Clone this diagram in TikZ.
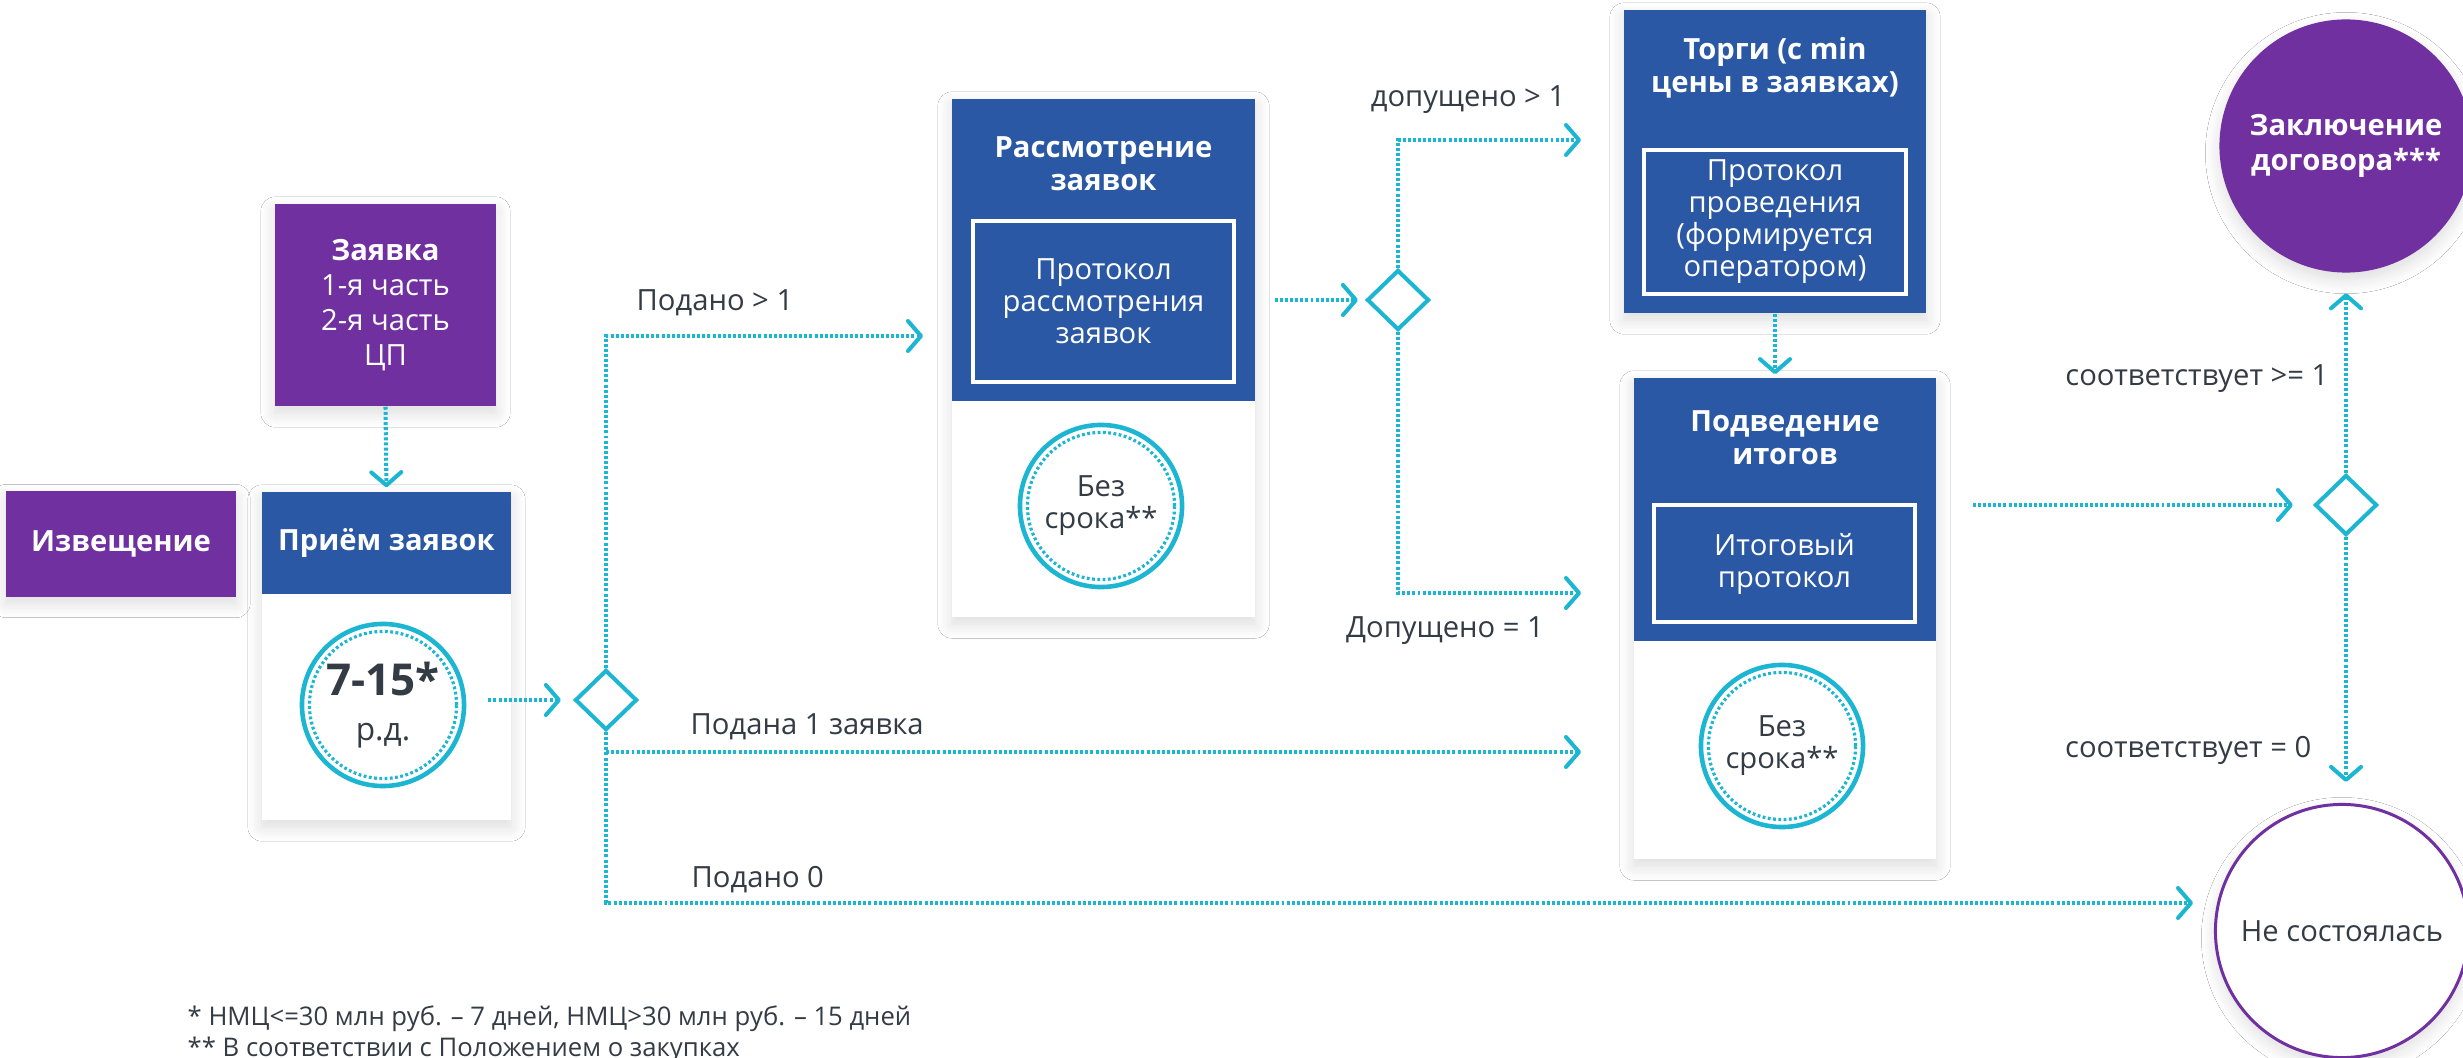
\documentclass[tikz,border=0pt]{standalone}
\usepackage{fontspec}
\setmainfont{Open Sans}
\usetikzlibrary{arrows.meta,shapes.geometric,shadows.blur}
\definecolor{zkpurple}{HTML}{7030A0}
\definecolor{zkblue}{HTML}{2A58A4}
\definecolor{zkcyan}{HTML}{1DB6D2}
\definecolor{zktext}{HTML}{333B44}
\def\headfont{\fontsize{8.3}{9.3}\selectfont\bfseries}
\def\bodyfont{\fontsize{8.3}{9.1}\selectfont}
\def\timerring(#1){\draw[ring] (#1) circle (0.735cm);}

\tikzset{
	soft/.style={blur shadow={shadow xshift=0pt, shadow yshift=-2pt, shadow blur radius=4pt, shadow blur steps=10, shadow blur extra rounding=0pt, shadow opacity=14}},
	purplebox/.style={rectangle, fill=zkpurple, text=white, inner sep=0pt, align=center, font=\bodyfont, soft},
	card/.style={rectangle, fill=white, inner sep=0pt, soft},
	head/.style={rectangle, fill=zkblue, inner sep=0pt, text=white, align=center, font=\headfont},
	protbox/.style={rectangle, draw=white, line width=1pt, text=white, align=center, inner sep=0pt, font=\bodyfont},
	timer/.style={circle, draw=zkcyan, line width=1.3pt, fill=white, minimum size=1.62cm, inner sep=0pt, align=center, text=zktext, font=\bodyfont},
	ring/.style={zkcyan, line width=0.9pt, dash pattern=on 0.8pt off 0.7pt},
	choice/.style={diamond, draw=zkcyan, line width=1.15pt, fill=white, minimum width=0.62cm, minimum height=0.60cm, inner sep=0pt},
	flow/.style={zkcyan, line width=1.15pt, dash pattern=on 0.85pt off 0.6pt, -{Straight Barb[round, length=0.13cm, width=0.30cm]}},
	lbl/.style={text=zktext, inner sep=0pt, font=\bodyfont}
}

\begin{document}
\begin{tikzpicture}[x=0.01cm, y=-0.01cm]
	%%%%% START %%%%%
	\useasboundingbox[fill=white] (0,0) rectangle (2463,1058);
	
	\node[purplebox, minimum width=2.30cm, minimum height=1.05cm, font=\headfont] (izv) at (121,544) {Извещение};
	\node[purplebox, minimum width=2.21cm, minimum height=2.02cm, font=\fontsize{8.3}{10}\selectfont] (zayavka) at (385.5,305) {\textbf{Заявка}\\1-я часть\\2-я часть\\ЦП};
	
	\node[card, minimum width=2.49cm, minimum height=3.28cm] (priembox) at (386.5,656) {};
	\node[head, minimum width=2.49cm, minimum height=1.02cm] (priem) at (386.5,543) {Приём заявок};
	\node[timer, font=\fontsize{12.5}{12.8}\selectfont] (priemtime) at (383,705) {\textbf{7-15*}\\{\fontsize{9}{10}\selectfont р.д.}};
	\timerring(priemtime)
	
	\node[choice] (d1) at (606,700) {};
	
	\node[card, minimum width=3.03cm, minimum height=5.18cm] (rassbox) at (1103.5,358) {};
	\node[head, minimum width=3.03cm, minimum height=3.02cm] (rasshead) at (1103.5,250) {};
	\node[text=white, align=center, font=\headfont] (rasstitle) at (1103.5,164) {Рассмотрение\\заявок};
	\node[protbox, minimum width=2.61cm, minimum height=1.61cm] (rassprot) at (1103.5,301.5) {Протокол\\рассмотрения\\заявок};
	\node[timer] (rasstime) at (1101,506) {Без\\срока**};
	\timerring(rasstime)
	
	\node[choice] (d2) at (1398,300) {};
	
	\node[head, minimum width=3.02cm, minimum height=3.03cm, soft] (torgi) at (1775,161.5) {};
	\node[text=white, align=center, font=\headfont] (torgititle) at (1775,68) {Торги (с min\\цены в заявках)};
	\node[protbox, minimum width=2.62cm, minimum height=1.44cm] (torgiprot) at (1775,222) {Протокол\\проведения\\(формируется\\оператором)};
	
	\node[card, minimum width=3.02cm, minimum height=4.81cm] (itogibox) at (1785,618.5) {};
	\node[head, minimum width=3.02cm, minimum height=2.63cm] (itogihead) at (1785,509.5) {};
	\node[text=white, align=center, font=\headfont] (itogititle) at (1785,438) {Подведение\\итогов};
	\node[protbox, minimum width=2.61cm, minimum height=1.17cm] (itogiprot) at (1784.5,563.5) {Итоговый\\протокол};
	\node[timer] (itogitime) at (1782,746) {Без\\срока**};
	\timerring(itogitime)
	
	\node[choice] (d3) at (2346,505) {};
	
	\node[circle, fill=zkpurple, text=white, minimum size=2.53cm, inner sep=0pt, align=center, font=\fontsize{8.3}{10}\selectfont\bfseries, soft] (zakl) at (2346,146) {Заключение\\договора***};
	\node[circle, draw=zkpurple, line width=0.85pt, fill=white, minimum size=2.53cm, inner sep=0pt, text=zktext, font=\bodyfont, soft] (nesost) at (2342,931) {Не состоялась};
	
	\coordinate (rassin) at (923,336);
	\coordinate (itogiin) at (1581,752);
	\coordinate (nesostin) at (2193,903);
	\coordinate (torgiin) at (1581,140);
	\coordinate (itogiin2) at (1581,593);
	
	\draw[flow, shorten >=0.04cm] (zayavka.south) -- (priem.north);
	\draw[flow, shorten <=0.22cm, shorten >=0.12cm] (priemtime.east |- d1) -- (d1.west);
	\draw[flow] (d1.north) |- (rassin);
	\draw[flow] (d1.south) |- (nesostin);
	\draw[flow] (d1.south |- itogiin) -- (itogiin);
	\draw[flow, shorten <=0.19cm, shorten >=0.07cm] (rassbox.east |- d2) -- (d2.west);
	\draw[flow] (d2.north) |- (torgiin);
	\draw[flow] (d2.south) |- (itogiin2);
	\draw[flow, shorten >=0.03cm] (torgi.south) -- (torgi.south |- itogibox.north);
	\draw[flow, shorten <=0.36cm, shorten >=0.2cm] (itogibox.east |- d3) -- (d3.west);
	\draw[flow, shorten >=0.2cm] (d3.north) -- (zakl.south);
	\draw[flow, shorten >=0.21cm] (d3.south) -- (d3.south |- nesost.north);
	
	\node[lbl, anchor=west] (lpodano1) at (636,303) {Подано > 1};
	\node[lbl, anchor=west] (lpodana1) at (690,727) {Подана 1 заявка};
	\node[lbl, anchor=west] (lpodano0) at (691,880) {Подано 0};
	\node[lbl] (ldop1) at (1468,100) {допущено > 1};
	\node[lbl] (ldopeq) at (1445,631) {Допущено = 1};
	\node[lbl, anchor=east] (lsootv1) at (2329,379) {соответствует >= 1};
	\node[lbl, anchor=east] (lsootv0) at (2312,750) {соответствует = 0};
	
	\node[lbl, anchor=west, font=\fontsize{7.3}{9}\selectfont] (fn1) at (187,1019) {* НМЦ<=30 млн руб. -- 7 дней, НМЦ>30 млн руб. -- 15 дней};
	\node[lbl, anchor=west, font=\fontsize{7.3}{9}\selectfont] (fn2) at (187,1050) {** В соответствии с Положением о закупках};
	
	%%%%% END %%%%%
\end{tikzpicture}
\end{document}
